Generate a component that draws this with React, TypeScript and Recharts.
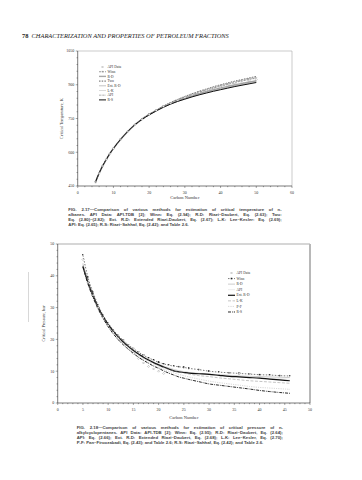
import React from "react";
import { LineChart, Line, XAxis, YAxis, ReferenceLine } from "recharts";

// ---- Fig. 2.17: critical temperature of n-alkanes ----
const tcCarbon = [5, 6, 7, 8, 9, 10, 12, 14, 16, 18, 20, 22, 24, 26, 28, 30, 32, 34, 36, 38, 40, 42, 44, 46, 48, 50];
const tcApiData = [469.7, 507.6, 540.2, 568.7, 594.6, 617.7, 658.1, 693, 723, 747, 768, 786, 803, 818, 831, 843, 854, 864, 873, 882, 890, 898, 905, 911, 918, 924];
const tcWinn = [466, 505, 538, 567, 593, 616, 657, 692, 722, 747, 768, 786, 804, 819, 833, 845, 856, 867, 877, 886, 894, 902, 910, 917, 924, 930];
const tcRD = [468, 506, 539, 567, 593, 616, 656, 691, 721, 746, 767, 785, 802, 816, 829, 841, 851, 861, 870, 878, 886, 893, 900, 906, 912, 918];
const tcTwu = [470, 508, 540, 569, 595, 618, 658, 693, 723, 748, 769, 787, 805, 821, 835, 848, 860, 871, 881, 891, 900, 908, 916, 923, 930, 937];
const tcExtRD = [468, 506, 539, 567, 593, 616, 656, 691, 721, 746, 767, 785, 801, 815, 828, 839, 849, 858, 867, 875, 882, 889, 896, 902, 909, 915];
const tcLK = [467, 505, 538, 566, 592, 615, 656, 691, 721, 746, 766, 784, 800, 814, 826, 837, 847, 856, 865, 873, 880, 887, 894, 900, 906, 912];
const tcAPI = [470, 508, 541, 569, 595, 618, 658, 693, 723, 748, 769, 787, 804, 820, 834, 846, 858, 869, 879, 888, 897, 905, 913, 920, 927, 933];
const tcRS = [469, 507, 540, 568, 594, 617, 657, 692, 722, 746, 766, 784, 800, 814, 826, 836, 846, 855, 863, 871, 878, 885, 892, 898, 904, 910];

// ---- Fig. 2.18: critical pressure of n-alkylcyclopentanes ----
const pcCarbon = [5, 6, 7, 8, 9, 10, 11, 12, 13, 14, 15, 16, 17, 18, 19, 20, 21, 22, 23, 24, 25, 26, 28, 30, 32, 34, 36, 38, 40, 42, 44, 46];
const pcApiData = [45.1, 37.8, 33.9, 30.0, 26.9, 24.4, 22.2, 20.3, 18.6, 17.1, 15.6, 14.0, 12.6, 11.5, 10.7, 10.0, 9.3];
const pcWinn = [46.5, 39.5, 34.8, 30.8, 27.6, 25.1, 23.0, 21.2, 19.7, 18.3, 17.1, 16.0, 15.0, 14.2, 13.5, 12.8, 12.3, 11.9, 11.6, 11.4, 11.2, 10.9, 10.5, 10.0, 9.7, 9.5, 9.3, 9.1, 8.9, 8.8, 8.6, 8.5];
const pcRD = [42.5, 37.6, 33.5, 30.0, 27.0, 24.5, 22.4, 20.6, 19.1, 17.7, 16.5, 15.4, 14.4, 13.6, 12.8, 12.1, 11.5, 11.0, 10.5, 10.1, 9.8, 9.6, 9.3, 9.1, 8.9, 8.7, 8.5, 8.4, 8.3, 8.2, 8.1, 8.0];
const pcAPI = [44.0, 38.2, 33.9, 30.3, 27.3, 24.8, 22.7, 20.9, 19.3, 17.9, 16.7, 15.6, 14.6, 13.8, 13.0, 12.3, 11.7, 11.1, 10.6, 10.2, 9.9, 9.6, 9.2, 8.9, 8.6, 8.4, 8.2, 8.0, 7.9, 7.7, 7.6, 7.5];
const pcExtRD = [43.0, 38.0, 33.8, 30.2, 27.2, 24.7, 22.6, 20.8, 19.2, 17.8, 16.5, 15.4, 14.4, 13.5, 12.7, 12.0, 11.3, 10.7, 10.1, 9.8, 9.6, 9.4, 9.2, 9.0, 8.7, 8.4, 8.2, 8.0, 7.8, 7.5, 7.25, 7.0];
const pcLK = [43.5, 38.0, 33.6, 30.0, 27.0, 24.4, 22.3, 20.4, 18.8, 17.4, 16.2, 15.1, 14.1, 13.2, 12.4, 11.7, 11.1, 10.6, 10.1, 9.7, 9.4, 9.1, 8.6, 8.3, 7.9, 7.6, 7.3, 7.0, 6.8, 6.6, 6.4, 6.2];
const pcPF = [43.8, 37.9, 33.4, 29.7, 26.6, 24.0, 21.8, 20.0, 18.4, 17.0, 15.7, 14.6, 13.6, 12.7, 11.9, 11.2, 10.6, 10.0, 9.5, 9.0, 8.6, 8.2, 7.5, 6.9, 6.4, 6.0, 5.6, 5.2, 4.9, 4.7, 4.5, 4.3];
const pcRS = [42.8, 37.4, 33.2, 29.6, 26.6, 24.0, 21.8, 19.9, 18.3, 16.9, 15.6, 14.4, 13.4, 12.5, 11.6, 10.9, 10.1, 9.4, 8.8, 8.2, 7.8, 7.4, 6.7, 6.0, 5.6, 5.2, 4.8, 4.4, 3.95, 3.6, 3.3, 3.05];

const range = (a: number, b: number, s: number) => {
  const out: number[] = [];
  for (let v = a; v <= b + 1e-9; v += s) out.push(Math.round(v * 100) / 100);
  return out;
};

const tcXTicks = range(0, 60, 2);
const tcYTicks = range(450, 1050, 30);
const pcXTicks = range(0, 50, 1);
const pcYTicks = range(0, 50, 2);

const SERIF = "'Liberation Serif', 'DejaVu Serif', serif";
const SANS = "'Liberation Sans', Arial, sans-serif";

type Series = {
  key: string;
  name: string;
  values: (number | null)[];
  stroke: string;
  width: number;
  dash?: string;
  marker?: "diamond" | "square";
};

const tcSeries: Series[] = [
  { key: "apiData", name: "API Data", values: tcApiData, stroke: "none", width: 0, marker: "diamond" },
  { key: "winn", name: "Winn", values: tcWinn, stroke: "#9a9a9a", width: 1.1, dash: "2 1", marker: "square" },
  { key: "rd", name: "R-D", values: tcRD, stroke: "#a8a8a8", width: 1.4 },
  { key: "twu", name: "Twu", values: tcTwu, stroke: "#222", width: 0.7, dash: "1.5 1.2" },
  { key: "extRd", name: "Ext. R-D", values: tcExtRD, stroke: "#888", width: 0.5 },
  { key: "lk", name: "L-K", values: tcLK, stroke: "#b5b5b5", width: 0.5 },
  { key: "api", name: "API", values: tcAPI, stroke: "#b0b0b0", width: 1.4, dash: "0.7 0.7" },
  { key: "rs", name: "R-S", values: tcRS, stroke: "#111", width: 1 },
];

const pcSeries: Series[] = [
  { key: "apiData", name: "API Data", values: pcApiData, stroke: "none", width: 0, marker: "diamond" },
  { key: "winn", name: "Winn", values: pcWinn, stroke: "#222", width: 0.6, dash: "1.5 1.5", marker: "square" },
  { key: "rd", name: "R-D", values: pcRD, stroke: "#9a9a9a", width: 0.5 },
  { key: "api", name: "API", values: pcAPI, stroke: "#dedede", width: 0.6 },
  { key: "extRd", name: "Ext. R-D", values: pcExtRD, stroke: "#111", width: 1.2 },
  { key: "lk", name: "L-K", values: pcLK, stroke: "#8a8a8a", width: 0.5, dash: "3 1.5" },
  { key: "pf", name: "P-F", values: pcPF, stroke: "#999", width: 0.6, dash: "0.6 1.2" },
  { key: "rs", name: "R-S", values: pcRS, stroke: "#111", width: 0.9, dash: "3 1 0.8 1" },
];

const buildRows = (carbon: number[], series: Series[]) =>
  carbon.map((c, i) => {
    const row: Record<string, number | null> = { c };
    series.forEach((s) => {
      const v = s.values[i];
      row[s.key] = v === undefined ? null : v;
    });
    return row;
  });

const tcRows = buildRows(tcCarbon, tcSeries);
const pcRows = buildRows(pcCarbon, pcSeries);

const Marker = ({ cx, cy, kind, color }: any) => {
  if (cx == null || cy == null) return null;
  if (kind === "diamond") {
    const r = 1;
    return (
      <path
        d={`M${cx},${cy - r}L${cx + r},${cy}L${cx},${cy + r}L${cx - r},${cy}Z`}
        fill="#fff"
        stroke="#555"
        strokeWidth={0.3}
      />
    );
  }
  const r = 0.65;
  return <rect x={cx - r} y={cy - r} width={2 * r} height={2 * r} fill="#fff" stroke={color} strokeWidth={0.3} />;
};

const makeXTick = (every: number) => (p: any) => {
  const v = p.payload.value;
  const major = Math.abs(v % every) < 1e-6;
  return (
    <g>
      <line x1={p.x} x2={p.x} y1={p.y} y2={p.y + (major ? 2 : 1.2)} stroke="#222" strokeWidth={0.4} />
      {major && (
        <text x={p.x} y={p.y + 8} textAnchor="middle" fontSize={4} fontFamily={SERIF} fill="#333">
          {v}
        </text>
      )}
    </g>
  );
};

const makeYTick = (every: number) => (p: any) => {
  const v = p.payload.value;
  const major = Math.abs(v % every) < 1e-6;
  return (
    <g>
      <line x1={p.x} x2={p.x - (major ? 2 : 1.2)} y1={p.y} y2={p.y} stroke="#222" strokeWidth={0.4} />
      {major && (
        <text x={p.x - 3.5} y={p.y + 1.4} textAnchor="end" fontSize={4} fontFamily={SERIF} fill="#333">
          {v}
        </text>
      )}
    </g>
  );
};

const axisTitle = (text: string, vertical: boolean, offset: number) => (props: any) => {
  const vb = props.viewBox;
  if (vertical) {
    const x = vb.x + offset;
    const y = vb.y + vb.height / 2;
    return (
      <text x={x} y={y} transform={`rotate(-90 ${x} ${y})`} textAnchor="middle" fontSize={4.3} fontFamily={SERIF} fill="#333">
        {text}
      </text>
    );
  }
  return (
    <text x={vb.x + vb.width / 2} y={vb.y + offset} textAnchor="middle" fontSize={4.5} fontFamily={SERIF} fill="#333">
      {text}
    </text>
  );
};

const renderLines = (series: Series[]) =>
  series.map((s) => (
    <Line
      key={s.key}
      dataKey={s.key}
      name={s.name}
      type="monotone"
      stroke={s.stroke}
      strokeWidth={s.width}
      strokeDasharray={s.dash}
      connectNulls={false}
      dot={s.marker ? (p: any) => <Marker key={`${s.key}-${p.index}`} cx={p.cx} cy={p.cy} kind={s.marker} color={s.stroke} /> : false}
      activeDot={false}
      isAnimationActive={false}
    />
  ));

const LegendBox = ({ series, left, top, step }: { series: Series[]; left: number; top: number; step: number }) => (
  <svg style={{ position: "absolute", left, top, overflow: "visible" }} width={40} height={series.length * step}>
    {series.map((s, i) => {
      const y = i * step;
      return (
        <g key={s.key}>
          {s.marker !== "diamond" && (
            <line x1={0} x2={7} y1={y} y2={y} stroke={s.stroke} strokeWidth={s.width} strokeDasharray={s.dash} />
          )}
          {s.marker && <Marker cx={3.5} cy={y} kind={s.marker} color={s.stroke} />}
          <text x={8.5} y={y + 1.2} fontSize={3.6} fontFamily={SERIF} fill="#333">
            {s.name}
          </text>
        </g>
      );
    })}
  </svg>
);

const captionLine = (text: string, last: boolean, i: number) => (
  <div
    key={i}
    style={{
      textAlign: "justify",
      textAlignLast: last ? "left" : "justify",
      whiteSpace: "nowrap",
      overflow: "visible",
    }}
  >
    {text}
  </div>
);

const caption1 = [
  "FIG. 2.17\u2014Comparison of various methods for estimation of critical temperature of n-",
  "alkanes. API Data: API-TDB [2]; Winn: Eq. (2.94); R-D: Riazi\u2013Daubert, Eq. (2.63); Twu:",
  "Eq. (2.80)\u2013(2.82); Ext. R-D: Extended Riazi-Daubert, Eq. (2.67); L-K: Lee\u2013Kesler: Eq. (2.69);",
  "API: Eq. (2.65); R-S: Riazi\u2013Sahhaf, Eq. (2.42); and Table 2.6.",
];

const caption2 = [
  "FIG. 2.18\u2014Comparison of various methods for estimation of critical pressure of n-",
  "alkylcyclopentanes. API Data: API-TDB [2]; Winn: Eq. (2.95); R-D: Riazi\u2013Daubert, Eq. (2.64);",
  "API: Eq. (2.66); Ext. R-D: Extended Riazi\u2013Daubert, Eq. (2.68); L-K: Lee\u2013Kesler, Eq. (2.70);",
  "P-F: Pan\u2013Firoozabadi, Eq. (2.43); and Table 2.6; R-S: Riazi\u2013Sahhaf, Eq. (2.42); and Table 2.6.",
];

const captionStyle = (left: number, top: number, width: number): React.CSSProperties => ({
  position: "absolute",
  left,
  top,
  width,
  fontFamily: SANS,
  fontWeight: 700,
  fontSize: 4.3,
  lineHeight: "5.3px",
  color: "#444",
});

export default function App() {
  return (
    <div style={{ position: "absolute", left: 0, top: 0, width: 362, height: 480, background: "#fff", overflow: "hidden" }}>
      <div style={{ position: "absolute", left: 22, top: 32, fontFamily: SERIF, fontSize: 6.4, color: "#222", whiteSpace: "nowrap" }}>
        <b>78</b>&nbsp;&nbsp;<i>CHARACTERIZATION AND PROPERTIES OF PETROLEUM FRACTIONS</i>
      </div>

      <div style={{ position: "absolute", left: 0, top: 0 }}>
        <LineChart width={362} height={205} data={tcRows} margin={{ top: 51, right: 70, bottom: 0, left: 0 }}>
          <XAxis
            dataKey="c"
            type="number"
            domain={[0, 60]}
            ticks={tcXTicks}
            interval={0}
            height={19}
            tickSize={0}
            tickMargin={0}
            stroke="#222"
            strokeWidth={0.6}
            tick={makeXTick(10)}
            label={{ content: axisTitle("Carbon Number", false, 13) }}
          />
          <YAxis
            type="number"
            domain={[450, 1050]}
            ticks={tcYTicks}
            interval={0}
            width={77.7}
            tickSize={0}
            tickMargin={0}
            stroke="#222"
            strokeWidth={0.6}
            tick={makeYTick(150)}
            label={{ content: axisTitle("Critical Temperature, K", true, 63) }}
          />
          <ReferenceLine y={1050} stroke="#aaa" strokeWidth={0.6} />
          <ReferenceLine x={60} stroke="#aaa" strokeWidth={0.6} />
          {renderLines(tcSeries)}
        </LineChart>
      </div>
      <LegendBox series={tcSeries} left={98.5} top={66.7} step={4.7} />
      <div style={captionStyle(68.3, 206.5, 213.4)}>{caption1.map((t, i) => captionLine(t, i === caption1.length - 1, i))}</div>

      <div style={{ position: "absolute", left: 28, top: 272, width: 0.6, height: 50, background: "#d8d8d8" }} />

      <div style={{ position: "absolute", left: 0, top: 230 }}>
        <LineChart width={362} height={195} data={pcRows} margin={{ top: 14, right: 52, bottom: 0, left: 0 }}>
          <XAxis
            dataKey="c"
            type="number"
            domain={[0, 50]}
            ticks={pcXTicks}
            interval={0}
            height={22}
            tickSize={0}
            tickMargin={0}
            stroke="#222"
            strokeWidth={0.6}
            tick={makeXTick(5)}
            label={{ content: axisTitle("Carbon Number", false, 15.5) }}
          />
          <YAxis
            type="number"
            domain={[0, 50]}
            ticks={pcYTicks}
            interval={0}
            width={57.7}
            tickSize={0}
            tickMargin={0}
            stroke="#222"
            strokeWidth={0.6}
            tick={makeYTick(10)}
            label={{ content: axisTitle("Critical Pressure, bar", true, 44.5) }}
          />
          <ReferenceLine y={50} stroke="#777" strokeWidth={0.6} />
          <ReferenceLine x={50} stroke="#b8b8b8" strokeWidth={2} />
          {renderLines(pcSeries)}
        </LineChart>
      </div>
      <LegendBox series={pcSeries} left={227.7} top={272.7} step={5.57} />
      <div style={captionStyle(76.7, 424.5, 206.3)}>{caption2.map((t, i) => captionLine(t, i === caption2.length - 1, i))}</div>
    </div>
  );
}
